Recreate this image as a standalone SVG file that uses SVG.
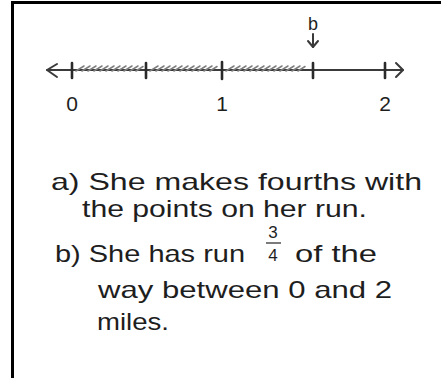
<svg xmlns="http://www.w3.org/2000/svg" width="441" height="378" viewBox="0 0 441 378">
<style>
.ink{fill:#1e1e1e;font-family:"Liberation Sans","DejaVu Sans",sans-serif}
.ln{stroke:#3a3a3a;stroke-width:2;fill:none;stroke-linecap:round;stroke-linejoin:round}
.tk{stroke:#2a2a2a;stroke-width:2.6;stroke-linecap:round}
.h{stroke:#7e7e7e;stroke-width:1.5;stroke-linecap:round}
</style>
<rect width="441" height="378" fill="#fff"/>
<g id="frame">
<line x1="12.5" y1="2" x2="12.5" y2="378" stroke="#000" stroke-width="3"/>
<line x1="11" y1="2.5" x2="441" y2="2.5" stroke="#000" stroke-width="3"/>
</g>
<g id="numberline">
<line class="ln" x1="47" y1="70" x2="403" y2="70"/>
<polyline class="ln" points="57,64 47,70 57,77"/>
<polyline class="ln" points="396,63 403,70 396,77"/>
<g id="hatch">
<path class="h" d="M76 71l8-5M82 71l8-5M88 71l8-5M94 71l8-5M100 71l8-5M106 71l8-5M112 71l8-5M118 71l8-5M124 71l8-5M130 71l8-5M136 71l7-4.5M150 71l8-5M156 71l8-5M162 71l8-5M168 71l8-5M174 71l8-5M180 71l8-5M186 71l8-5M192 71l8-5M198 71l8-5M204 71l8-5M210 71l7-4.5M226 71l8-5M232 71l8-5M238 71l8-5M244 71l8-5M250 71l8-5M256 71l8-5M262 71l8-5M268 71l8-5M274 71l8-5M280 71l8-5M286 71l8-5M292 71l8-5M298 71l7-4.5"/>
</g>
<line class="tk" x1="72" y1="63" x2="72" y2="78"/>
<line class="tk" x1="146" y1="63" x2="146" y2="78"/>
<line class="tk" x1="222" y1="62" x2="222" y2="79"/>
<line class="tk" x1="313" y1="63" x2="313" y2="78"/>
<line class="tk" x1="385" y1="63" x2="385" y2="78"/>
<text class="ink" x="72" y="111" font-size="21" text-anchor="middle">0</text>
<text class="ink" x="222" y="111" font-size="21" text-anchor="middle">1</text>
<text class="ink" x="385" y="111" font-size="21" text-anchor="middle">2</text>
</g>
<g id="marker-b">
<text class="ink" x="313" y="30" font-size="18" text-anchor="middle">b</text>
<line class="ln" x1="313" y1="34" x2="313" y2="47"/>
<polyline class="ln" points="308,41 313,47 318,41"/>
</g>
<g id="answers">
<text class="ink" x="51" y="190" font-size="24" textLength="371" lengthAdjust="spacingAndGlyphs">a) She makes fourths with</text>
<text class="ink" x="82" y="217" font-size="24" textLength="285" lengthAdjust="spacingAndGlyphs">the points on her run.</text>
<text class="ink" x="55" y="262" font-size="24" textLength="190" lengthAdjust="spacingAndGlyphs">b) She has run</text>
<text class="ink" x="273" y="238" font-size="17" text-anchor="middle">3</text>
<line x1="266" y1="243" x2="281" y2="243" stroke="#333" stroke-width="1.3"/>
<text class="ink" x="273" y="261" font-size="17" text-anchor="middle">4</text>
<text class="ink" x="295" y="262" font-size="24" textLength="82" lengthAdjust="spacingAndGlyphs">of the</text>
<text class="ink" x="98" y="298" font-size="24" textLength="294" lengthAdjust="spacingAndGlyphs">way between 0 and 2</text>
<text class="ink" x="97" y="330" font-size="24" textLength="72" lengthAdjust="spacingAndGlyphs">miles.</text>
</g>
</svg>
